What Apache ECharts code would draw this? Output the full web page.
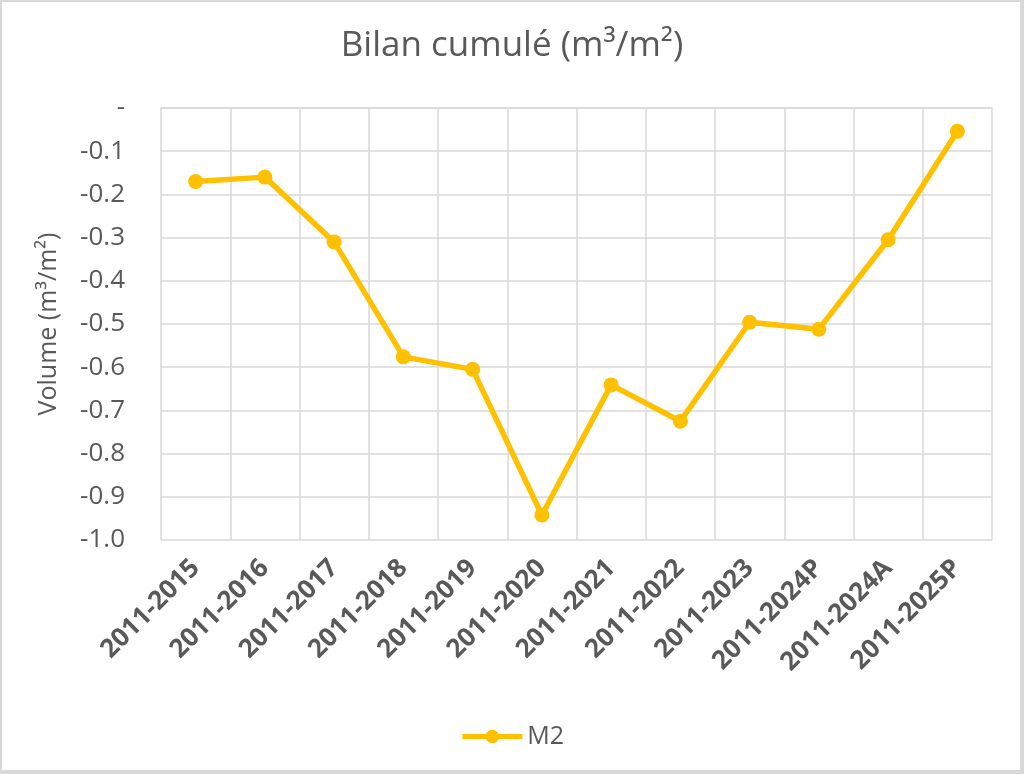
<!DOCTYPE html>
<html>
<head>
    <meta charset="utf-8">
    <title>Bilan cumulé</title>
    <script src="https://cdn.jsdelivr.net/npm/echarts@6/dist/echarts.min.js"></script>
    <style>
        html, body {
            width: 100%;
            height: 100%;
            margin: 0;
            background: #fff;
        }
        #main {
            position: absolute;
            left: 0; top: 0;
            width: 1024px;
            height: 774px;
        }
        #frame {
            position: absolute;
            left: 0; top: 0;
            width: 1018px;
            height: 768px;
            border-left: 2px solid #d9d9d9;
            border-top: 2px solid #d9d9d9;
            border-right: 4px solid #d9d9d9;
            border-bottom: 4px solid #d9d9d9;
            pointer-events: none;
        }
    </style>
</head>
<body>
    <div id="main"></div>
    <div id="frame"></div>
    <script type="text/javascript">
        var periods = ['2011-2015', '2011-2016', '2011-2017', '2011-2018', '2011-2019', '2011-2020',
                       '2011-2021', '2011-2022', '2011-2023', '2011-2024P', '2011-2024A', '2011-2025P'];
        var m2 = [-0.170, -0.160, -0.310, -0.576, -0.605, -0.942,
                  -0.641, -0.725, -0.496, -0.512, -0.305, -0.054];

        var font = '"Open Sans", "Liberation Sans", sans-serif';
        var myChart = echarts.init(document.getElementById('main'));

        var option = {
            animation: false,
            backgroundColor: '#fff',
            title: {
                text: 'Bilan cumulé (m³/m²)',
                left: 'center',
                top: 24,
                textStyle: { fontFamily: font, fontSize: 35, fontWeight: 'normal', color: '#595959' }
            },
            grid: { left: 161, right: 32, top: 108, bottom: 234 },
            legend: {
                bottom: 20,
                left: 'center',
                itemWidth: 60,
                itemHeight: 17,
                itemGap: 6,
                lineStyle: { width: 5 },
                textStyle: { fontFamily: font, fontSize: 25, color: '#595959' },
                data: ['M2']
            },
            xAxis: {
                type: 'category',
                data: periods,
                boundaryGap: true,
                axisLine: { show: true, lineStyle: { color: '#d9d9d9', width: 1.5 } },
                axisTick: { show: false },
                splitLine: { show: true, lineStyle: { color: '#d9d9d9', width: 1.5 } },
                axisLabel: {
                    interval: 0,
                    rotate: 45,
                    margin: 24,
                    fontFamily: font,
                    fontSize: 26,
                    fontWeight: 'bold',
                    color: '#595959'
                }
            },
            yAxis: {
                type: 'value',
                min: -1.0,
                max: 0,
                interval: 0.1,
                name: 'Volume (m³/m²)',
                nameLocation: 'middle',
                nameGap: 100,
                nameTextStyle: { fontFamily: font, fontSize: 25, color: '#595959' },
                axisLine: { show: false },
                axisTick: { show: false },
                splitLine: { show: true, lineStyle: { color: '#d9d9d9', width: 1.5 } },
                axisLabel: {
                    margin: 36,
                    fontFamily: font,
                    fontSize: 26,
                    color: '#595959',
                    formatter: function (v) {
                        if (Math.abs(v) < 1e-9) return '-';
                        return v.toFixed(1);
                    }
                }
            },
            series: [{
                name: 'M2',
                type: 'line',
                data: m2,
                symbol: 'circle',
                symbolSize: 15,
                lineStyle: { color: '#FFC000', width: 5.5 },
                itemStyle: { color: '#FFC000' }
            }]
        };

        if (option && typeof option === "object") {
            myChart.setOption(option, true);
        }
    </script>
</body>
</html>
